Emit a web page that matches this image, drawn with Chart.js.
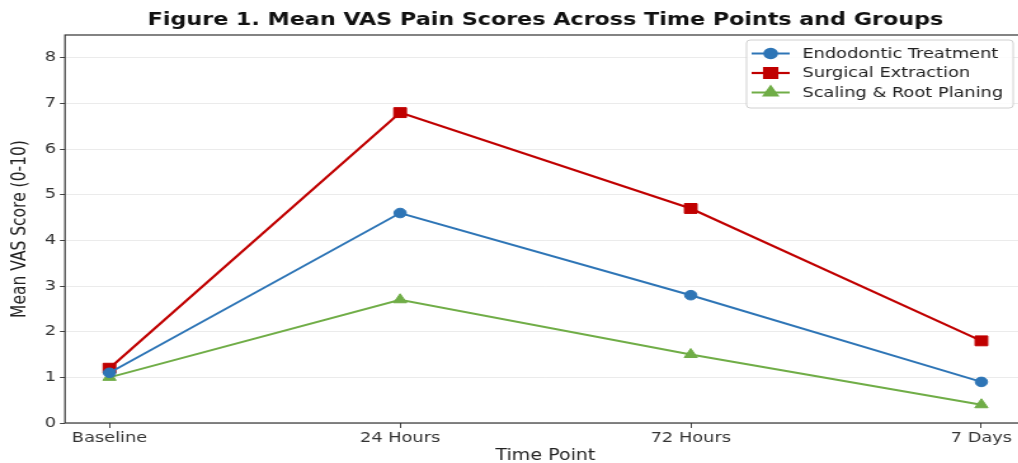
<!DOCTYPE html>
<html>
<head>
<meta charset="utf-8">
<script src="https://cdn.jsdelivr.net/npm/chart.js@4.4.1/dist/chart.umd.min.js"></script>
<style>
  html, body { margin: 0; padding: 0; background: #fff; overflow: hidden; }
  #wrap { width: 1018px; height: 463px; overflow: hidden; position: relative; background: #fff; }
  #c { position: absolute; left: 0; top: 0; width: 1036px; height: 470px; }
</style>
</head>
<body>
<div id="wrap"><canvas id="c" width="816" height="470" style="width:1036px;height:470px"></canvas></div>
<script>
const categories = ['Baseline', '24 Hours', '72 Hours', '7 Days'];
const endodontic = [1.1, 4.6, 2.8, 0.9];
const surgical = [1.2, 6.8, 4.7, 1.8];
const scaling = [1.0, 2.7, 1.5, 0.4];
const yTicks = [0, 1, 2, 3, 4, 5, 6, 7, 8];
const seriesNames = ['Endodontic Treatment', 'Surgical Extraction', 'Scaling & Root Planing'];
const titleText = 'Figure 1. Mean VAS Pain Scores Across Time Points and Groups';

const FONT = "'DejaVu Sans', sans-serif";
const toPts = arr => arr.map((v, i) => ({ x: i, y: v }));

const frame = {
  id: 'frame',
  beforeDraw(chart) {
    if (chart.titleBlock) {
      chart.titleBlock.left = chart.chartArea.left;
      chart.titleBlock.right = chart.chartArea.right;
    }
  },
  afterDatasetsDraw(chart) {
    const { ctx, chartArea: a } = chart;
    ctx.save();
    ctx.strokeStyle = '#333';
    ctx.lineWidth = 1.2;
    ctx.strokeRect(a.left, a.top, a.right - a.left, a.bottom - a.top);
    ctx.restore();
  },
  afterDraw(chart) {
    const { ctx } = chart;
    const bx = 588, by = 40, bw = 210, bh = 68;
    ctx.save();
    ctx.fillStyle = 'rgba(255,255,255,0.85)';
    ctx.strokeStyle = '#d0d0d0';
    ctx.lineWidth = 1;
    ctx.beginPath();
    ctx.roundRect(bx, by, bw, bh, 3);
    ctx.fill();
    ctx.stroke();
    chart.data.datasets.forEach((ds, i) => {
      const y = 53.5 + i * 19.5;
      ctx.strokeStyle = ds.borderColor;
      ctx.lineWidth = ds.borderWidth;
      ctx.beginPath();
      ctx.moveTo(592, y);
      ctx.lineTo(622, y);
      ctx.stroke();
      ctx.fillStyle = ds.backgroundColor;
      Chart.helpers.drawPoint(ctx, { pointStyle: ds.pointStyle, radius: ds.pointRadius, rotation: 0, borderWidth: 1 }, 607, y);
      ctx.fill();
      ctx.fillStyle = '#222';
      ctx.font = "14px " + FONT;
      ctx.textBaseline = 'middle';
      ctx.textAlign = 'left';
      ctx.fillText(ds.label, 632, y + 0.5);
    });
    ctx.restore();
  }
};

new Chart(document.getElementById('c'), {
  type: 'line',
  data: {
    datasets: [
      { label: seriesNames[0], data: toPts(endodontic), borderColor: '#2e75b6', backgroundColor: '#2e75b6',
        borderWidth: 2, pointStyle: 'circle', pointRadius: 4.8, pointBorderWidth: 1 },
      { label: seriesNames[1], data: toPts(surgical), borderColor: '#c00000', backgroundColor: '#c00000',
        borderWidth: 2.2, pointStyle: 'rect', pointRadius: 7, pointBorderWidth: 1 },
      { label: seriesNames[2], data: toPts(scaling), borderColor: '#70ad47', backgroundColor: '#70ad47',
        borderWidth: 2, pointStyle: 'triangle', pointRadius: 6, pointBorderWidth: 1 }
    ]
  },
  options: {
    responsive: false,
    animation: false,
    devicePixelRatio: 1,
    layout: { padding: { left: 0, right: 1, top: 0, bottom: 0 } },
    plugins: {
      legend: { display: false },
      tooltip: { enabled: false },
      title: {
        display: true, text: titleText, color: '#111',
        font: { family: FONT, size: 17.5, weight: 'bold', lineHeight: 1.2 },
        padding: { top: 10, bottom: 4 }
      }
    },
    scales: {
      x: {
        type: 'linear', min: -0.153, max: 3.153,
        afterBuildTicks: s => { s.ticks = categories.map((_, i) => ({ value: i })); },
        afterFit: s => { s.height = 47; },
        ticks: { callback: v => categories[v] ?? '', color: '#333', font: { family: FONT, size: 14 }, padding: 2, maxRotation: 0, autoSkip: false },
        grid: { drawOnChartArea: false, drawTicks: true, tickLength: 5, tickColor: '#444' },
        border: { display: false },
        title: { display: true, text: 'Time Point', color: '#222', font: { family: FONT, size: 15, lineHeight: 1.2 }, padding: { top: 0, bottom: 5 } }
      },
      y: {
        min: 0, max: 8.5,
        afterBuildTicks: s => { s.ticks = yTicks.map(v => ({ value: v })); },
        afterFit: s => { s.width = 51.2; },
        ticks: { color: '#333', font: { family: FONT, size: 14 }, padding: 3 },
        grid: { color: 'rgba(0,0,0,0.08)', tickLength: 4, tickColor: '#444' },
        border: { display: false },
        title: { display: true, text: 'Mean VAS Score (0-10)', color: '#222', font: { family: FONT, size: 15.5, lineHeight: 1.2 }, padding: { top: 7, bottom: 0 } }
      }
    }
  },
  plugins: [frame]
});
</script>
</body>
</html>
